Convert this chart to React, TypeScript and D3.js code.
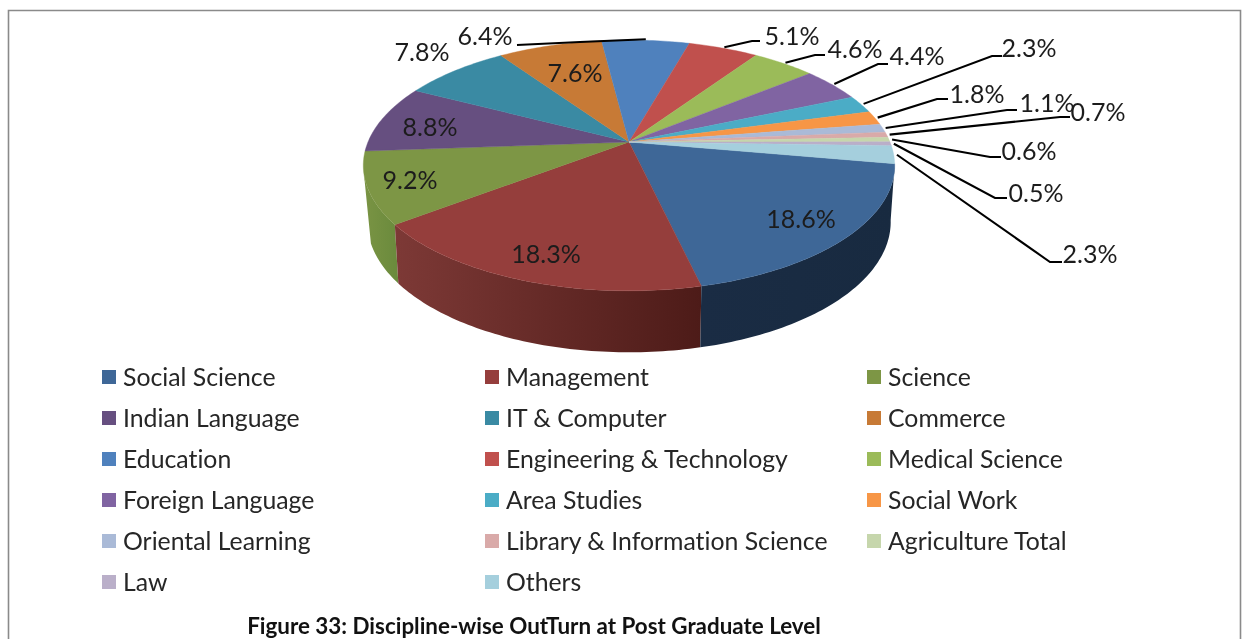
import React from "react";
import * as d3 from "d3";

const categories = ["Social Science","Management","Science","Indian Language","IT & Computer","Commerce","Education","Engineering & Technology","Medical Science","Foreign Language","Area Studies","Social Work","Oriental Learning","Library & Information Science","Agriculture Total","Law","Others"];
const values = [18.6,18.3,9.2,8.8,7.8,7.6,6.4,5.1,4.6,4.4,2.3,1.8,1.1,0.7,0.6,0.5,2.3];
const colors = ["#3e6797","#953e3c","#7d9645","#664f80","#3a8aa3","#c77a36","#4f81bd","#c0504d","#9bbb59","#8064a2","#4bacc6","#f79646","#aabad7","#d9aaa9","#c6d6ac","#baafc9","#a5cfdd"];
const sideLeft = ["#1a2c44","#7d3936","#7a9444"];
const sideRight = ["#182a40","#4d1b18","#6a8a3c"];
const title = "Figure 33: Discipline-wise OutTurn at Post Graduate Level";

// layout only: label centre, and leader elbow + shelf end where the label has a leader
const labelLayout: { x: number; y: number; knee?: [number, number]; end?: [number, number] }[] = [
  { x: 801, y: 218 }, { x: 546, y: 253 }, { x: 410, y: 179 }, { x: 430, y: 126 },
  { x: 422, y: 51 }, { x: 575, y: 72 },
  { x: 485, y: 35, knee: [580, 42], end: [517, 45] },
  { x: 792, y: 35, knee: [752, 41], end: [760, 41] },
  { x: 855, y: 48, knee: [815, 55], end: [825, 55] },
  { x: 917, y: 55, knee: [878, 64], end: [888, 64] },
  { x: 1029, y: 47, knee: [992, 56], end: [1002, 56] },
  { x: 977, y: 93, knee: [937, 99], end: [948, 99] },
  { x: 1047, y: 102, knee: [1007, 110], end: [1017, 110] },
  { x: 1098, y: 111, knee: [1060, 117], end: [1070, 117] },
  { x: 1029, y: 150, knee: [990, 157], end: [1001, 157] },
  { x: 1036, y: 192, knee: [995, 198], end: [1007, 198] },
  { x: 1090, y: 253, knee: [1050, 262], end: [1062, 262] },
];

const W = 1249, H = 639;
const FONT = "Lato, 'Open Sans', sans-serif";
const deg = Math.PI / 180;
const cx = 629, cy = 142, R = 261, Rc = 121, p = 0.187;
const START = 100 * deg;
const SIDE_TOP_END = 258 * deg;
const SIDE_BOTTOM_END = 250 * deg;
const top = (a: number, r = 1): [number, number] => {
  const X = Math.sin(a) * r, Y = -Math.cos(a) * r;
  const s = 1 / (1 - p * Y);
  return [cx + R * X * s, cy + Rc * Y * s];
};
const bottom = (a: number): [number, number] => {
  const [x, y] = top(a);
  return [cx + (x - cx) * 0.985, 197.5 + (y - cy) * 1.04];
};
const slices = d3.pie<number>().sort(null).value((d) => d).startAngle(START).endAngle(START + 2 * Math.PI)(values);
const arcPoints = (a0: number, a1: number, f = top) => {
  const n = Math.max(2, Math.ceil((a1 - a0) / deg));
  return d3.range(n + 1).map((i) => f(a0 + ((a1 - a0) * i) / n));
};
const lineGen = d3.line();

export default function App() {
  const legendX = [102, 485, 867];
  const legendY = d3.scaleLinear().domain([0, 5]).range([376, 581]);
  const sides = [0, 1, 2].map((k) => {
    const s = slices[k];
    const t = arcPoints(s.startAngle, Math.min(s.endAngle, SIDE_TOP_END), top);
    const b = arcPoints(s.startAngle, Math.min(s.endAngle, SIDE_BOTTOM_END), bottom);
    const xs = [...t, ...b].map((q) => q[0]);
    return { k, d: lineGen([...t, ...b.reverse()])! + "Z", x0: d3.min(xs)!, x1: d3.max(xs)! };
  });
  return (
    <svg width={W} height={H} viewBox={`0 0 ${W} ${H}`} style={{ position: "fixed", left: 0, top: 0, display: "block", background: "#fff", filter: "blur(0.5px)", fontVariantLigatures: "none" }}>
      <defs>
        {sides.map((s) => (
          <linearGradient key={s.k} id={`side${s.k}`} gradientUnits="userSpaceOnUse" x1={s.x0} x2={s.x1} y1={0} y2={0}>
            <stop offset="0" stopColor={sideLeft[s.k]} />
            <stop offset="1" stopColor={sideRight[s.k]} />
          </linearGradient>
        ))}
      </defs>
      <rect x={0} y={0} width={W} height={H} fill="#fff" />
      <path d={`M8.5 ${H}V10.5H1240.5V${H}`} fill="none" stroke="#8a8a8a" strokeWidth={1.6} />
      {sides.slice().reverse().map((s) => <path key={s.k} d={s.d} fill={`url(#side${s.k})`} />)}
      {slices.map((s, i) => (
        <path key={i} d={lineGen([[cx, cy], ...arcPoints(s.startAngle, s.endAngle)])! + "Z"} fill={colors[i]} stroke={colors[i]} strokeWidth={0.4} />
      ))}
      {slices.map((s, i) => {
        const l = labelLayout[i];
        if (!l.knee) return null;
        const start = top((s.startAngle + s.endAngle) / 2, 1.012);
        return <path key={i} d={lineGen([start, l.knee, l.end!])!} fill="none" stroke="#000" strokeWidth={2.1} />;
      })}
      {values.map((v, i) => (
        <text key={i} x={labelLayout[i].x} y={labelLayout[i].y} textAnchor="middle" dominantBaseline="central" fontFamily={FONT} fontSize={25} fill="#1c1c1c">{v.toFixed(1)}%</text>
      ))}
      {categories.map((c, i) => {
        const col = i % 3, row = Math.floor(i / 3);
        const y = legendY(row);
        return (
          <g key={c}>
            <rect x={legendX[col]} y={y - 6} width={14} height={14} fill={colors[i]} />
            <text x={legendX[col] + 21} y={y} dominantBaseline="central" fontFamily={FONT} fontSize={24.8} fill="#262626">{c}</text>
          </g>
        );
      })}
      <text x={534} y={625.5} textAnchor="middle" dominantBaseline="central" fontFamily={FONT} fontWeight={700} fontSize={22.4} fill="#111">{title}</text>
    </svg>
  );
}
